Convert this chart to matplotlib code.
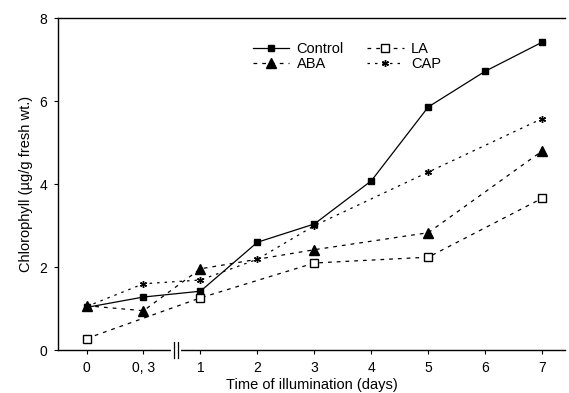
import matplotlib
matplotlib.use('Agg')
import matplotlib.pyplot as plt
import matplotlib.transforms as mtransforms

plt.rcParams['font.family'] = ['Liberation Sans', 'DejaVu Sans']

### data #####
tick_labels = ['0', '0, 3', '1', '2', '3', '4', '5', '6', '7']

control_x = [0, 1, 2, 3, 4, 5, 6, 7, 8]
control_y = [1.03, 1.28, 1.42, 2.6, 3.04, 4.08, 5.86, 6.72, 7.42]

aba_x = [0, 1, 2, 4, 6, 8]
aba_y = [1.07, 0.95, 1.96, 2.42, 2.83, 4.8]

la_x = [0, 2, 4, 6, 8]
la_y = [0.28, 1.26, 2.1, 2.24, 3.66]

cap_x = [0, 1, 2, 3, 4, 6, 8]
cap_y = [1.05, 1.6, 1.69, 2.19, 3.0, 4.29, 5.58]

### plot #####
fig = plt.figure(figsize=(5.69, 3.93), dpi=100)
ax = fig.add_axes([0.102, 0.109, 0.891, 0.845])

ax.plot(control_x, control_y, color='black', lw=0.9, ls='-',
        marker='s', ms=5, label='Control')
ax.plot(aba_x, aba_y, color='black', lw=0.9, ls=(0, (3, 4)),
        marker='^', ms=6.5, label='ABA')
ax.plot(la_x, la_y, color='black', lw=0.9, ls=(0, (3, 4)),
        marker='s', ms=5.5, mfc='white', label='LA')
ax.plot(cap_x, cap_y, color='black', lw=0.9, ls=(0, (2, 4)),
        marker=(6, 2, 0), ms=5, mew=1, label='CAP')

ax.set_xlim(-0.5, 8.4)
ax.set_ylim(0, 8)
ax.set_xticks(range(len(tick_labels)))
ax.set_xticklabels(tick_labels)
ax.set_yticks([0, 2, 4, 6, 8])
ax.tick_params(direction='out', length=3, width=0.8, labelsize=10, pad=5)

ax.spines['right'].set_visible(False)
for s in ['left', 'top', 'bottom']:
    ax.spines[s].set_linewidth(1.0)

# axis break marks on the x axis
trans = mtransforms.blended_transform_factory(ax.transData, ax.transAxes)
ax.plot([1.52, 1.62], [0, 0], color='white', lw=3, transform=trans,
        clip_on=False, zorder=5)
for bx in [1.53, 1.61]:
    ax.plot([bx, bx], [-0.025, 0.025], color='black', lw=0.9,
            transform=trans, clip_on=False, zorder=6)

ax.set_xlabel('Time of illumination (days)', fontsize=10.5, labelpad=2)
ax.set_ylabel('Chlorophyll (\u00b5g/g fresh wt.)', fontsize=10.5, labelpad=4)

ax.legend(loc='upper left', bbox_to_anchor=(0.37, 0.95), ncol=2,
          frameon=False, fontsize=10.5, handlelength=2.5,
          columnspacing=1.6, labelspacing=0.05, handletextpad=0.5,
          borderpad=0)

fig.savefig('out.png', dpi=100)
plt.close()
